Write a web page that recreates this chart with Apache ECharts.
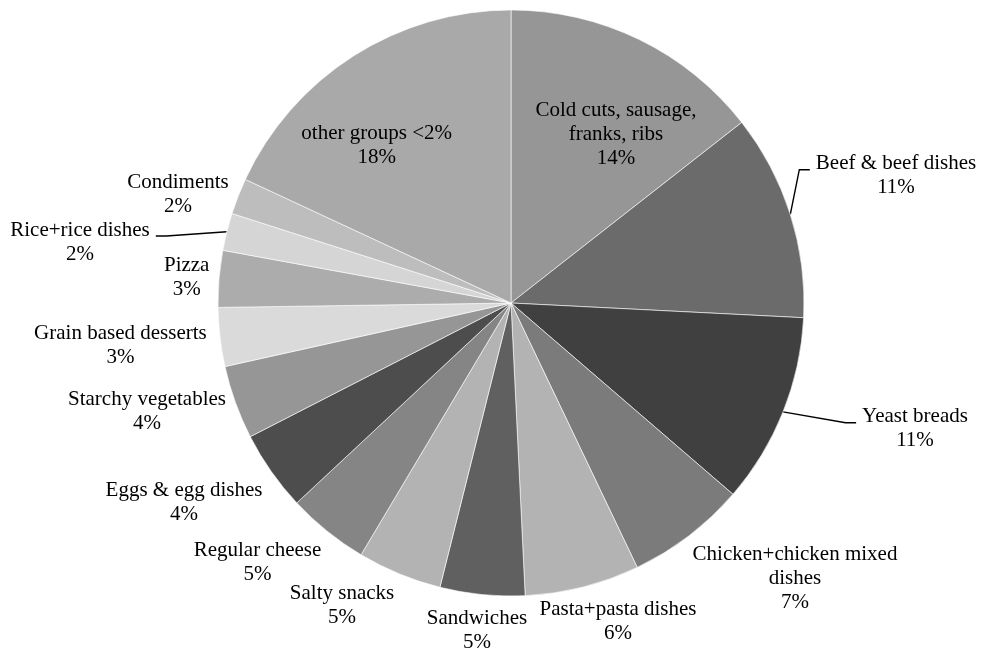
<!DOCTYPE html>
<html>
<head>
<meta charset="utf-8">
<script src="https://cdn.jsdelivr.net/npm/echarts@6/dist/echarts.min.js"></script>
<style>
  html, body { margin: 0; padding: 0; background: #ffffff; }
  #chart { width: 982px; height: 651px; }
</style>
</head>
<body>
<div id="chart"></div>
<script>
// Food groups, clockwise from 12 o'clock
const categories = [
  'Cold cuts, sausage,\nfranks, ribs',
  'Beef & beef dishes',
  'Yeast breads',
  'Chicken+chicken mixed\ndishes',
  'Pasta+pasta dishes',
  'Sandwiches',
  'Salty snacks',
  'Regular cheese',
  'Eggs & egg dishes',
  'Starchy vegetables',
  'Grain based desserts',
  'Pizza',
  'Rice+rice dishes',
  'Condiments',
  'other groups <2%'
];

// Share of total (percent)
const shares = [14.43, 11.37, 10.52, 6.59, 6.32, 4.67, 4.65, 4.5, 4.41, 4.06, 3.24, 3.12, 2.06, 1.99, 18.07];

// Grey fill for each slice
const sliceColors = [
  '#969696', '#6b6b6b', '#404040', '#7b7b7b', '#b3b3b3',
  '#606060', '#b3b3b3', '#858585', '#4d4d4d', '#969696',
  '#dadada', '#acacac', '#d5d5d5', '#bdbdbd', '#a9a9a9'
];

// Where each label's text block is centred (px)
const labelSpots = [
  [616, 134.5], [896, 175.7], [915, 428.7], [795, 578], [618, 621.2],
  [477, 630.4], [342, 605.7], [257.5, 562], [184, 502], [147, 411.7],
  [120.4, 345], [186.7, 277.5], [80, 242], [178, 194], [376.7, 145.3]
];

// Slices whose labels are joined to the pie by a leader line
const leaderItems = [1, 2, 12];

const pieCenter = [511, 303];
const pieRadius = 293;

const chart = echarts.init(document.getElementById('chart'), null, { renderer: 'canvas' });

chart.setOption({
  backgroundColor: '#ffffff',
  animation: false,
  series: [{
    type: 'pie',
    center: pieCenter,
    radius: pieRadius,
    startAngle: 90,
    clockwise: true,
    avoidLabelOverlap: false,
    silent: true,
    itemStyle: { borderColor: 'rgba(255,255,255,0.75)', borderWidth: 0.8 },
    label: {
      show: true,
      position: 'outside',
      formatter: p => p.name + '\n' + Math.round(p.value) + '%',
      fontFamily: '"Liberation Serif", "Times New Roman", serif',
      fontSize: 21,
      lineHeight: 24,
      color: '#000000',
      align: 'center'
    },
    labelLine: {
      show: false,
      length: 10,
      length2: 10,
      lineStyle: { color: '#000000', width: 1.4 }
    },
    labelLayout: function (p) {
      const spot = labelSpots[p.dataIndex];
      const out = { x: spot[0], y: spot[1], align: 'center', verticalAlign: 'middle' };
      if (leaderItems.indexOf(p.dataIndex) >= 0 && p.labelLinePoints) {
        const start = p.labelLinePoints[0];
        const w = p.labelRect.width;
        const onRight = spot[0] > pieCenter[0];
        const endX = onRight ? spot[0] - w / 2 - 6 : spot[0] + w / 2 + 6;
        const bendX = onRight ? endX - 10.5 : endX + 10.5;
        const lineY = spot[1] - 6;
        out.labelLinePoints = [start, [bendX, lineY], [endX, lineY]];
      }
      return out;
    },
    data: categories.map((name, i) => ({
      name: name,
      value: shares[i],
      itemStyle: { color: sliceColors[i] },
      labelLine: { show: leaderItems.indexOf(i) >= 0 }
    }))
  }]
});
</script>
</body>
</html>
